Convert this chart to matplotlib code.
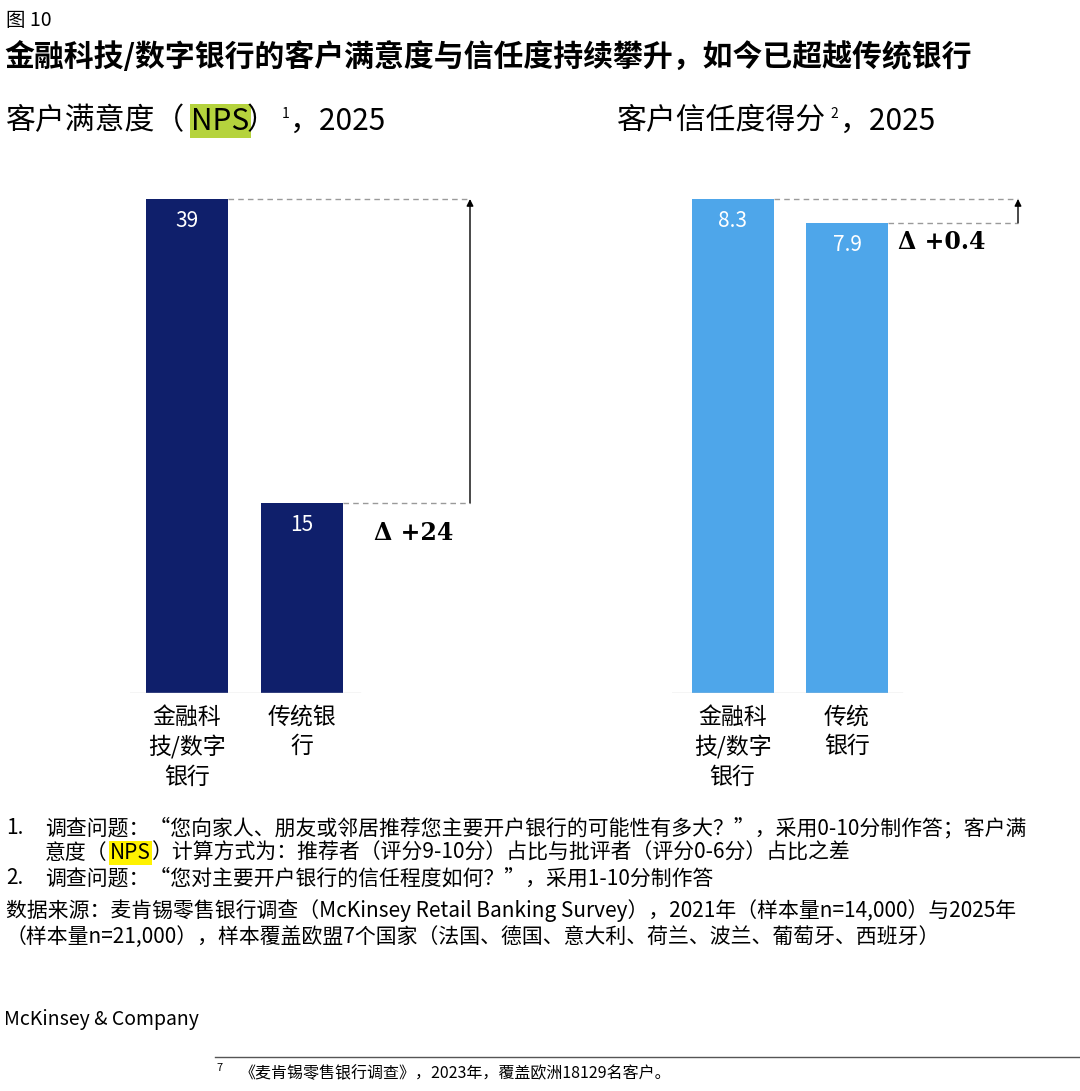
import matplotlib.pyplot as plt

plt.rcParams['font.family'] = ['Noto Sans CJK SC', 'DejaVu Sans']

W, H = 1080, 1091

nps_labels = ['金融科\n技/数字\n银行', '传统银\n行']
nps_values = [39, 15]
trust_labels = ['金融科\n技/数字\n银行', '传统\n银行']
trust_values = [8.3, 7.9]

NAVY = '#0f1f6b'
LIGHT = '#4ea6ea'
GREY = '#9a9a9a'


def fx(px):
    return px / W


def fy(py):
    return 1 - py / H


def panel(fig, left_px, centers, values, color, bracket_x, delta, delta_xy, labels):
    ax = fig.add_axes([fx(left_px), fy(693), 360 / W, 543 / H])
    top = values[0] * 543 / 494
    ax.set_xlim(left_px, left_px + 360)
    ax.set_ylim(0, top)
    ax.bar(centers, values, width=82, color=color, zorder=2)
    ax.axhline(0, color='#cccccc', lw=1, xmin=0, xmax=230 / 360)
    for c, v in zip(centers, values):
        ax.text(c, v - top * 0.02, f'{v:g}', color='white', ha='center', va='top', fontsize=15)
    ax.plot([centers[0] + 41, bracket_x], [values[0]] * 2, ls=(0, (4, 3)), color=GREY, lw=1)
    ax.plot([centers[1] + 41, bracket_x], [values[1]] * 2, ls=(0, (4, 3)), color=GREY, lw=1)
    ax.annotate('', xy=(bracket_x, values[0]), xytext=(bracket_x, values[1]),
                arrowprops=dict(arrowstyle='-|>', color='black', lw=1, mutation_scale=10,
                                shrinkA=0, shrinkB=0))
    ax.axis('off')
    fig.text(fx(delta_xy[0]), fy(delta_xy[1]), delta, fontsize=17, fontweight='bold',
             va='center', family=['DejaVu Serif'])
    for c, lab in zip(centers, labels):
        fig.text(fx(c), fy(706), lab, ha='center', va='top', fontsize=16.5, linespacing=1.35)


fig = plt.figure(figsize=(W / 100, H / 100), dpi=100)

panel(fig, 130, [187, 301.5], nps_values, NAVY, 470, 'Δ +24', (374, 533), nps_labels)
panel(fig, 672, [732.5, 847], trust_values, LIGHT, 1018, 'Δ +0.4', (898, 242), trust_labels)

# header
fig.text(fx(6), fy(20), '图 10', fontsize=14, va='center')
fig.text(fx(4), fy(57), '金融科技/数字银行的客户满意度与信任度持续攀升，如今已超越传统银行',
         fontsize=21.5, fontweight='bold', va='center')
sub = 21.5
fig.text(fx(6), fy(121), '客户满意度（', fontsize=sub, va='center')
fig.text(fx(191), fy(121), 'NPS', fontsize=sub, va='center',
         bbox=dict(facecolor='#b5d33d', edgecolor='none', pad=1))
fig.text(fx(247), fy(121), '）', fontsize=sub, va='center')
fig.text(fx(282), fy(114), '1', fontsize=10, va='center')
fig.text(fx(290), fy(121), '，2025', fontsize=sub, va='center')
fig.text(fx(617), fy(121), '客户信任度得分', fontsize=sub, va='center')
fig.text(fx(830), fy(114), '2', fontsize=10, va='center')
fig.text(fx(840), fy(121), '，2025', fontsize=sub, va='center')

# footnotes
fn = 15
fig.text(fx(6), fy(828), '1.', fontsize=fn, va='center')
fig.text(fx(45), fy(828), '调查问题：“您向家人、朋友或邻居推荐您主要开户银行的可能性有多大？”，采用0-10分制作答；客户满',
         fontsize=fn, va='center')
fig.text(fx(45), fy(853), '意度（', fontsize=fn, va='center')
fig.text(fx(110), fy(853), 'NPS', fontsize=fn, va='center',
         bbox=dict(facecolor='#fff200', edgecolor='none', pad=1))
fig.text(fx(151), fy(853), '）计算方式为：推荐者（评分9-10分）占比与批评者（评分0-6分）占比之差',
         fontsize=fn, va='center')
fig.text(fx(6), fy(878), '2.', fontsize=fn, va='center')
fig.text(fx(45), fy(878), '调查问题：“您对主要开户银行的信任程度如何？”，采用1-10分制作答', fontsize=fn, va='center')
fig.text(fx(6), fy(911), '数据来源：麦肯锡零售银行调查（McKinsey Retail Banking Survey），2021年（样本量n=14,000）与2025年',
         fontsize=fn, va='center')
fig.text(fx(6), fy(937), '（样本量n=21,000），样本覆盖欧盟7个国家（法国、德国、意大利、荷兰、波兰、葡萄牙、西班牙）',
         fontsize=fn, va='center')
fig.text(fx(4), fy(1020), 'McKinsey & Company', fontsize=14, va='center')

fig.add_artist(plt.Line2D([fx(215), 1], [fy(1057), fy(1057)], color='#555555', lw=1))
fig.text(fx(216), fy(1068), '7', fontsize=8, va='center')
fig.text(fx(240), fy(1074), '《麦肯锡零售银行调查》，2023年，覆盖欧洲18129名客户。', fontsize=11.5, va='center')

fig.savefig('out.png', dpi=100, facecolor='white')
